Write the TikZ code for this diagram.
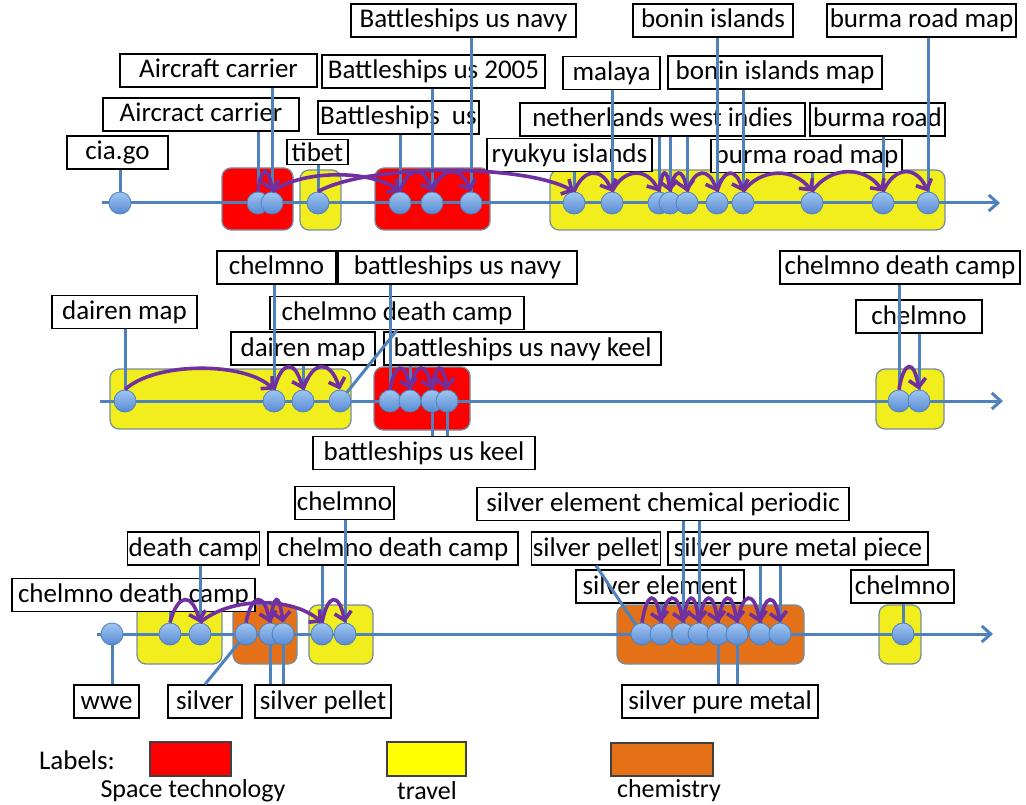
\documentclass[tikz,border=0pt]{standalone}
\usepackage{fontspec}
\setmainfont{Carlito}
\usetikzlibrary{arrows.meta}

\definecolor{axisblue}{RGB}{79,129,189}
\definecolor{dotlight}{RGB}{160,198,242}
\definecolor{dotdark}{RGB}{88,138,210}
\definecolor{flowpurple}{RGB}{112,48,160}
\definecolor{spacered}{RGB}{255,0,0}
\definecolor{travelyellow}{RGB}{242,238,30}
\definecolor{chemorange}{RGB}{228,112,24}
\definecolor{legendyellow}{RGB}{255,255,0}
\definecolor{boxedge}{RGB}{118,142,160}

\tikzset{
  lbl/.style={draw=black, line width=1.3pt, fill=white, text height=20pt, text depth=5pt, inner ysep=4pt, inner xsep=1.5pt},
  dot/.style={circle, minimum size=22pt, inner sep=0pt, draw=axisblue, line width=0.8pt, top color=dotlight, bottom color=dotdark},
  lead/.style={draw=axisblue, line width=3pt},
  flow/.style={draw=flowpurple, line width=3.6pt, -{Straight Barb[length=8pt,width=17pt]}},
  grp/.style={draw=boxedge, line width=1.3pt, rounded corners=9pt},
  timeline/.style={draw=axisblue, line width=3pt, -{Straight Barb[length=9pt,width=16pt]}},
  swatch/.style={draw=black!75, line width=1.3pt}
}

\begin{document}
\begin{tikzpicture}[x=1pt, y=-1pt, font=\fontsize{27}{30}\selectfont]
\useasboundingbox (0,0) rectangle (1026,805);

% Groups
\draw[grp, fill=spacered] (222,168) rectangle (293,230);
\draw[grp, fill=travelyellow] (300,170) rectangle (341,230);
\draw[grp, fill=spacered] (375,168) rectangle (490,230);
\draw[grp, fill=travelyellow] (550,170) rectangle (945,230);
\draw[grp, fill=travelyellow] (110,369) rectangle (351,429);
\draw[grp, fill=spacered] (374,367) rectangle (470,430);
\draw[grp, fill=travelyellow] (876,369) rectangle (944,429);
\draw[grp, fill=travelyellow] (137,605) rectangle (222,664);
\draw[grp, fill=chemorange] (233,605) rectangle (297,664);
\draw[grp, fill=travelyellow] (309,605) rectangle (373,664);
\draw[grp, fill=chemorange] (617,605) rectangle (804,664);
\draw[grp, fill=travelyellow] (879,605) rectangle (921,664);

% Timelines
\coordinate (s1) at (102,203);
\coordinate (e1) at (1000,203);
\coordinate (s2) at (100,401);
\coordinate (e2) at (1003,401);
\coordinate (s3) at (97,634);
\coordinate (e3) at (993,634);
\draw[timeline] (s1) -- (e1);
\draw[timeline] (s2) -- (e2);
\draw[timeline] (s3) -- (e3);

% Labels, first row
\node[lbl, minimum width=101pt] (la1) at (117.5,152.5) {cia.go};
\node[lbl, minimum width=196pt] (la2) at (201,114.5) {Aircract carrier};
\node[lbl, minimum width=197pt] (la3) at (218.5,70.5) {Aircraft carrier};
\node[lbl, minimum width=61pt, text depth=0pt, inner ysep=2.5pt] (la4) at (317.5,152) {tibet};
\node[lbl, minimum width=161pt] (la5) at (398.5,117.5) {Battleships~~us};
\node[lbl, minimum width=223pt] (la6) at (433.5,71.5) {Battleships us 2005};
\node[lbl, minimum width=225pt] (la7) at (463.5,20.5) {Battleships us navy};
\node[lbl, minimum width=165pt] (la8) at (569.5,155) {ryukyu islands};
\node[lbl, minimum width=97pt] (la9) at (611.5,73) {malaya};
\node[lbl, minimum width=285pt] (la10) at (662.5,119.5) {netherlands west indies};
\node[lbl, minimum width=160pt] (la11) at (713,20.5) {bonin islands};
\node[lbl, minimum width=214pt] (la12) at (775,72.5) {bonin islands map};
\node[lbl, minimum width=135pt] (la13) at (877.5,119.5) {burma road};
\node[lbl, minimum width=191pt] (la14) at (806.5,156) {burma road map};
\node[lbl, minimum width=189pt] (la15) at (921.5,20.5) {burma road map};

% Labels, second row
\node[lbl, minimum width=145pt] (lb1) at (124.5,312) {dairen map};
\node[lbl, minimum width=119pt] (lb2) at (276.5,267.5) {chelmno};
\node[lbl, minimum width=239pt] (lb3) at (457.5,267.5) {battleships us navy};
\node[lbl, minimum width=254pt] (lb4) at (397,313) {chelmno death camp};
\node[lbl, minimum width=144pt] (lb5) at (303,348.5) {dairen map};
\node[lbl, minimum width=277pt] (lb6) at (522.5,348.5) {battleships us navy keel};
\node[lbl, minimum width=222pt] (lb7) at (424,453) {battleships us keel};
\node[lbl, minimum width=240pt] (lb8) at (900,267.5) {chelmno death camp};
\node[lbl, minimum width=126pt] (lb9) at (919,316.5) {chelmno};

% Labels, third row
\node[lbl, minimum width=243pt] (lc1) at (133.5,595) {chelmno death camp};
\node[lbl, minimum width=131pt] (lc2) at (193.5,548.5) {death camp};
\node[lbl, minimum width=99pt] (lc3) at (344.5,503) {chelmno};
\node[lbl, minimum width=250pt] (lc4) at (393,548.5) {chelmno death camp};
\node[lbl, minimum width=372pt] (lc5) at (663,504) {silver element chemical periodic};
\node[lbl, minimum width=128pt] (lc6) at (596,548.5) {silver pellet};
\node[lbl, minimum width=260pt] (lc7) at (798,548.5) {silver pure metal piece};
\node[lbl, minimum width=168pt] (lc8) at (660,586.5) {silver element};
\node[lbl, minimum width=103pt] (lc9) at (902.5,586.5) {chelmno};
\node[lbl, minimum width=65pt] (lc10) at (106.5,701.5) {wwe};
\node[lbl, minimum width=74pt] (lc11) at (205,701.5) {silver};
\node[lbl, minimum width=136pt] (lc12) at (323,701.5) {silver pellet};
\node[lbl, minimum width=196pt] (lc13) at (720,701.5) {silver pure metal};

% Queries
\coordinate (a1) at (120,203);
\coordinate (a2) at (258,203);
\coordinate (a3) at (272,203);
\coordinate (a4) at (318,203);
\coordinate (a5) at (400,203);
\coordinate (a6) at (432,203);
\coordinate (a7) at (471,203);
\coordinate (a8) at (574,203);
\coordinate (a9) at (612,203);
\coordinate (a10) at (659,203);
\coordinate (a11) at (670,203);
\coordinate (a12) at (687,203);
\coordinate (a13) at (717,203);
\coordinate (a14) at (743,203);
\coordinate (a15) at (812,203);
\coordinate (a16) at (883,203);
\coordinate (a17) at (928,203);
\coordinate (b1) at (125,401);
\coordinate (b2) at (274,401);
\coordinate (b3) at (303,401);
\coordinate (b4) at (340,401);
\coordinate (b5) at (390,401);
\coordinate (b6) at (410,401);
\coordinate (b7) at (432,401);
\coordinate (b8) at (447,401);
\coordinate (b9) at (899,401);
\coordinate (b10) at (919,401);
\coordinate (c1) at (112,634);
\coordinate (c2) at (170,634);
\coordinate (c3) at (200,634);
\coordinate (c4) at (246,634);
\coordinate (c5) at (270,634);
\coordinate (c6) at (283,634);
\coordinate (c7) at (322,634);
\coordinate (c8) at (345,634);
\coordinate (c9) at (642,634);
\coordinate (c10) at (661,634);
\coordinate (c11) at (683,634);
\coordinate (c12) at (699,634);
\coordinate (c13) at (718,634);
\coordinate (c14) at (737,634);
\coordinate (c15) at (760,634);
\coordinate (c16) at (780,634);
\coordinate (c17) at (903,634);

% Leaders
\draw[lead] (a1) -- (a1 |- la1.south);
\draw[lead] (a2) -- (a2 |- la2.south);
\draw[lead] (a3) -- (a3 |- la3.south);
\draw[lead] (a4) -- (a4 |- la4.south);
\draw[lead] (a5) -- (a5 |- la5.south);
\draw[lead] (a6) -- (a6 |- la6.south);
\draw[lead] (a7) -- (a7 |- la7.south);
\draw[lead] (a8) -- (a8 |- la8.south);
\draw[lead] (a9) -- (a9 |- la9.south);
\draw[lead] (a10) -- (a10 |- la10.south);
\draw[lead] (a11) -- (a11 |- la10.south);
\draw[lead] (a12) -- (a12 |- la10.south);
\draw[lead] (a13) -- (a13 |- la11.south);
\draw[lead] (a14) -- (a14 |- la12.south);
\draw[lead] (a15) -- (a15 |- la14.south);
\draw[lead] (a16) -- (a16 |- la13.south);
\draw[lead] (a17) -- (a17 |- la15.south);
\draw[lead] (b1) -- (b1 |- lb1.south);
\draw[lead] (b2) -- (b2 |- lb2.south);
\draw[lead] (b3) -- (b3 |- lb5.south);
\draw[lead] (b4) -- (lb4.south);
\draw[lead] (b5) -- (b5 |- lb3.south);
\draw[lead] (b6) -- (b6 |- lb6.south);
\draw[lead] (b7) -- (b7 |- lb7.north);
\draw[lead] (b8) -- (b8 |- lb7.north);
\draw[lead] (b9) -- (b9 |- lb8.south);
\draw[lead] (b10) -- (b10 |- lb9.south);
\draw[lead] (c1) -- (c1 |- lc10.north);
\draw[lead] (c2) -- (c2 |- lc1.south);
\draw[lead] (c3) -- (c3 |- lc2.south);
\draw[lead] (c4) -- (lc11.north);
\draw[lead] (c5) -- (c5 |- lc12.north);
\draw[lead] (c6) -- (c6 |- lc12.north);
\draw[lead] (c7) -- (c7 |- lc4.south);
\draw[lead] (c8) -- (c8 |- lc3.south);
\draw[lead] (c9) -- (lc6.south);
\draw[lead] (c10) -- (c10 |- lc8.south);
\draw[lead] (c11) -- (c11 |- lc5.south);
\draw[lead] (c12) -- (c12 |- lc5.south);
\draw[lead] (c13) -- (c13 |- lc13.north);
\draw[lead] (c14) -- (c14 |- lc13.north);
\draw[lead] (c15) -- (c15 |- lc7.south);
\draw[lead] (c16) -- (c16 |- lc7.south);
\draw[lead] (c17) -- (c17 |- lc9.south);

% Dots
\node[dot] (qa1) at (a1) {};
\node[dot] (qa2) at (a2) {};
\node[dot] (qa3) at (a3) {};
\node[dot] (qa4) at (a4) {};
\node[dot] (qa5) at (a5) {};
\node[dot] (qa6) at (a6) {};
\node[dot] (qa7) at (a7) {};
\node[dot] (qa8) at (a8) {};
\node[dot] (qa9) at (a9) {};
\node[dot] (qa10) at (a10) {};
\node[dot] (qa11) at (a11) {};
\node[dot] (qa12) at (a12) {};
\node[dot] (qa13) at (a13) {};
\node[dot] (qa14) at (a14) {};
\node[dot] (qa15) at (a15) {};
\node[dot] (qa16) at (a16) {};
\node[dot] (qa17) at (a17) {};
\node[dot] (qb1) at (b1) {};
\node[dot] (qb2) at (b2) {};
\node[dot] (qb3) at (b3) {};
\node[dot] (qb4) at (b4) {};
\node[dot] (qb5) at (b5) {};
\node[dot] (qb6) at (b6) {};
\node[dot] (qb7) at (b7) {};
\node[dot] (qb8) at (b8) {};
\node[dot] (qb9) at (b9) {};
\node[dot] (qb10) at (b10) {};
\node[dot] (qc1) at (c1) {};
\node[dot] (qc2) at (c2) {};
\node[dot] (qc3) at (c3) {};
\node[dot] (qc4) at (c4) {};
\node[dot] (qc5) at (c5) {};
\node[dot] (qc6) at (c6) {};
\node[dot] (qc7) at (c7) {};
\node[dot] (qc8) at (c8) {};
\node[dot] (qc9) at (c9) {};
\node[dot] (qc10) at (c10) {};
\node[dot] (qc11) at (c11) {};
\node[dot] (qc12) at (c12) {};
\node[dot] (qc13) at (c13) {};
\node[dot] (qc14) at (c14) {};
\node[dot] (qc15) at (c15) {};
\node[dot] (qc16) at (c16) {};
\node[dot] (qc17) at (c17) {};

% Query flow
\draw[flow] (qa2.north) .. controls +(3,-26) and +(-3,-26) .. (qa3.north);
\draw[flow] (qa3.north) .. controls +(30,-22) and +(-30,-22) .. (qa5.north);
\draw[flow] (qa4.north) .. controls +(50,-28) and +(-50,-28) .. (qa8.north);
\draw[flow] (qa5.north) .. controls +(8,-26) and +(-8,-26) .. (qa6.north);
\draw[flow] (qa6.north) .. controls +(10,-26) and +(-10,-26) .. (qa7.north);
\draw[flow] (qa8.north) .. controls +(10,-24) and +(-10,-24) .. (qa9.north);
\draw[flow] (qa9.north) .. controls +(12,-24) and +(-12,-24) .. (qa10.north);
\draw[flow] (qa10.north) .. controls +(3,-24) and +(-3,-24) .. (qa11.north);
\draw[flow] (qa11.north) .. controls +(4,-24) and +(-4,-24) .. (qa12.north);
\draw[flow] (qa12.north) .. controls +(8,-24) and +(-8,-24) .. (qa13.north);
\draw[flow] (qa13.north) .. controls +(7,-24) and +(-7,-24) .. (qa14.north);
\draw[flow] (qa14.north) .. controls +(18,-24) and +(-18,-24) .. (qa15.north);
\draw[flow] (qa15.north) .. controls +(18,-26) and +(-18,-26) .. (qa16.north);
\draw[flow] (qa16.north) .. controls +(12,-26) and +(-12,-26) .. (qa17.north);
\draw[flow] (qb1.north) .. controls +(30,-28) and +(-30,-28) .. (qb2.north);
\draw[flow] (qb2.north) .. controls +(8,-30) and +(-8,-30) .. (qb3.north);
\draw[flow] (qb3.north) .. controls +(10,-30) and +(-10,-30) .. (qb4.north);
\draw[flow] (qb5.north) .. controls +(5,-28) and +(-5,-28) .. (qb6.north);
\draw[flow] (qb6.north) .. controls +(6,-28) and +(-6,-28) .. (qb7.north);
\draw[flow] (qb7.north) .. controls +(4,-28) and +(-4,-28) .. (qb8.north);
\draw[flow] (qb9.north) .. controls +(5,-30) and +(-5,-30) .. (qb10.north);
\draw[flow] (qc2.north) .. controls +(8,-30) and +(-8,-30) .. (qc3.north);
\draw[flow] (qc3.north) .. controls +(30,-26) and +(-30,-26) .. (qc7.north);
\draw[flow] (qc4.north) .. controls +(6,-30) and +(-6,-30) .. (qc5.north);
\draw[flow] (qc5.north) .. controls +(4,-30) and +(-4,-30) .. (qc6.north);
\draw[flow] (qc7.north) .. controls +(6,-30) and +(-6,-30) .. (qc8.north);
\draw[flow] (qc9.north) .. controls +(5,-32) and +(-5,-32) .. (qc10.north);
\draw[flow] (qc10.north) .. controls +(5,-32) and +(-5,-32) .. (qc11.north);
\draw[flow] (qc11.north) .. controls +(4,-32) and +(-4,-32) .. (qc12.north);
\draw[flow] (qc12.north) .. controls +(5,-32) and +(-5,-32) .. (qc13.north);
\draw[flow] (qc13.north) .. controls +(5,-32) and +(-5,-32) .. (qc14.north);
\draw[flow] (qc14.north) .. controls +(6,-32) and +(-6,-32) .. (qc15.north);
\draw[flow] (qc15.north) .. controls +(5,-30) and +(-5,-30) .. (qc16.north);

% Legend
\node (lgd) at (77,760) {Labels:};
\draw[swatch, fill=spacered] (150,742) rectangle (231,776);
\draw[swatch, fill=legendyellow] (387,742) rectangle (466,776);
\draw[swatch, fill=chemorange] (611,743) rectangle (713,776);
\node[font=\fontsize{26}{28}\selectfont] (lg1) at (193,791) {Space technology};
\node[font=\fontsize{26}{28}\selectfont] (lg2) at (427,791) {travel};
\node[font=\fontsize{26}{28}\selectfont] (lg3) at (669,791) {chemistry};
\end{tikzpicture}
\end{document}
